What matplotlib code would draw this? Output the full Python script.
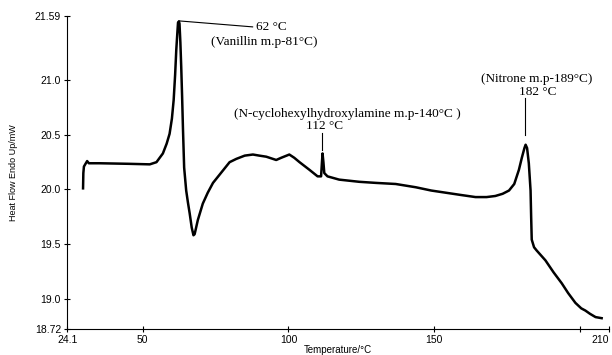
import matplotlib
matplotlib.use("Agg")
import matplotlib.pyplot as plt

# DSC trace (temperature in degC, heat flow in mW)
temperature = [29.5, 29.6, 29.8, 30.9, 31.5, 35.2, 45.0, 52.4, 54.7, 56.9, 58.2,
               59.2, 60.0, 60.6, 61.1, 61.5, 61.9, 62.1, 62.4, 62.6, 62.9, 63.2,
               63.5, 63.8, 64.2, 64.9, 65.5, 66.1, 66.8, 67.4, 67.8, 68.9, 70.6,
               72.3, 74.1, 76.5, 78.6, 79.8, 82.1, 85.0, 87.8, 90.0, 92.4, 95.8,
               97.5, 100.3, 102.0, 103.8, 107.2, 110.0, 111.2, 111.5, 111.7, 112.0,
               112.3, 113.4, 117.4, 124.3, 130.0, 136.8, 143.7, 149.0, 154.0, 159.0,
               164.2, 168.0, 171.0, 173.5, 175.7, 177.5, 179.1, 180.1, 181.0, 181.4,
               181.9, 182.5, 183.1, 183.3, 183.5, 184.3, 185.2, 188.2, 191.0, 193.8,
               196.0, 198.5, 200.5, 201.9, 203.5, 205.4, 207.5]
heat_flow = [20.01, 20.15, 20.21, 20.26, 20.24, 20.24, 20.235, 20.23, 20.25, 20.33, 20.42,
             20.51, 20.65, 20.82, 21.05, 21.28, 21.45, 21.53, 21.54, 21.52, 21.35, 21.12,
             20.85, 20.55, 20.20, 19.99, 19.88, 19.78, 19.65, 19.58, 19.59, 19.72, 19.87,
             19.97, 20.06, 20.14, 20.21, 20.25, 20.28, 20.31, 20.32, 20.31, 20.30, 20.27,
             20.29, 20.32, 20.29, 20.25, 20.18, 20.12, 20.12, 20.25, 20.33, 20.25,
             20.15, 20.12, 20.09, 20.07, 20.06, 20.05, 20.02, 19.99, 19.97, 19.95,
             19.93, 19.93, 19.94, 19.96, 19.99, 20.05, 20.18, 20.29, 20.38, 20.41,
             20.38, 20.24, 19.99, 19.75, 19.54, 19.47, 19.44, 19.35, 19.24, 19.14,
             19.05, 18.96, 18.91, 18.89, 18.86, 18.83, 18.82]

xticks = [24.1, 50, 100, 150, 200, 210]
xticklabels = ["24.1", "50", "100", "150", "", "210"]
yticks = [18.72, 19.0, 19.5, 20.0, 20.5, 21.0, 21.59]
yticklabels = ["18.72", "19.0", "19.5", "20.0", "20.5", "21.0", "21.59"]

fig = plt.figure(figsize=(6.12, 3.55), dpi=100)
ax = fig.add_axes([0.110, 0.073, 0.885, 0.882])

ax.plot(temperature, heat_flow, color="black", lw=1.8)

ax.set_xlim(24.1, 210)
ax.set_ylim(18.72, 21.59)
ax.set_xticks(xticks)
ax.set_xticklabels(xticklabels)
ax.set_yticks(yticks)
ax.set_yticklabels(yticklabels)
for s in ["top", "right"]:
    ax.spines[s].set_visible(False)
for s in ["left", "bottom"]:
    ax.spines[s].set_linewidth(0.8)
ax.tick_params(direction="inout", length=5, width=0.8, labelsize=7.5, pad=2)
for lab in ax.get_xticklabels() + ax.get_yticklabels():
    lab.set_fontfamily("Liberation Sans")
ax.get_xticklabels()[-1].set_horizontalalignment("right")

ax.set_xlabel("Temperature/°C", fontsize=7, family="Liberation Sans", labelpad=0)
ax.set_ylabel("Heat Flow Endo Up/mW", fontsize=6.5, family="Liberation Sans", labelpad=12)

serif = dict(family="Liberation Serif", fontsize=9.5)

# peak annotations
ax.plot([62.4, 87.7], [21.545, 21.49], color="black", lw=0.8)
ax.text(89.0, 21.49, "62 °C", va="center", ha="left", **serif)
ax.text(73.3, 21.35, "(Vanillin m.p-81°C)", va="center", ha="left", **serif)

ax.text(120.2, 20.69, "(N-cyclohexylhydroxylamine m.p-140°C )", va="center", ha="center", **serif)
ax.text(112.3, 20.58, "112 °C", va="center", ha="center", **serif)
ax.plot([111.5, 111.5], [20.52, 20.36], color="black", lw=0.8)

ax.text(185.2, 21.01, "(Nitrone m.p-189°C)", va="center", ha="center", **serif)
ax.text(185.5, 20.89, "182 °C", va="center", ha="center", **serif)
ax.plot([181.2, 181.2], [20.84, 20.50], color="black", lw=0.8)

fig.savefig("out.png", dpi=100)
